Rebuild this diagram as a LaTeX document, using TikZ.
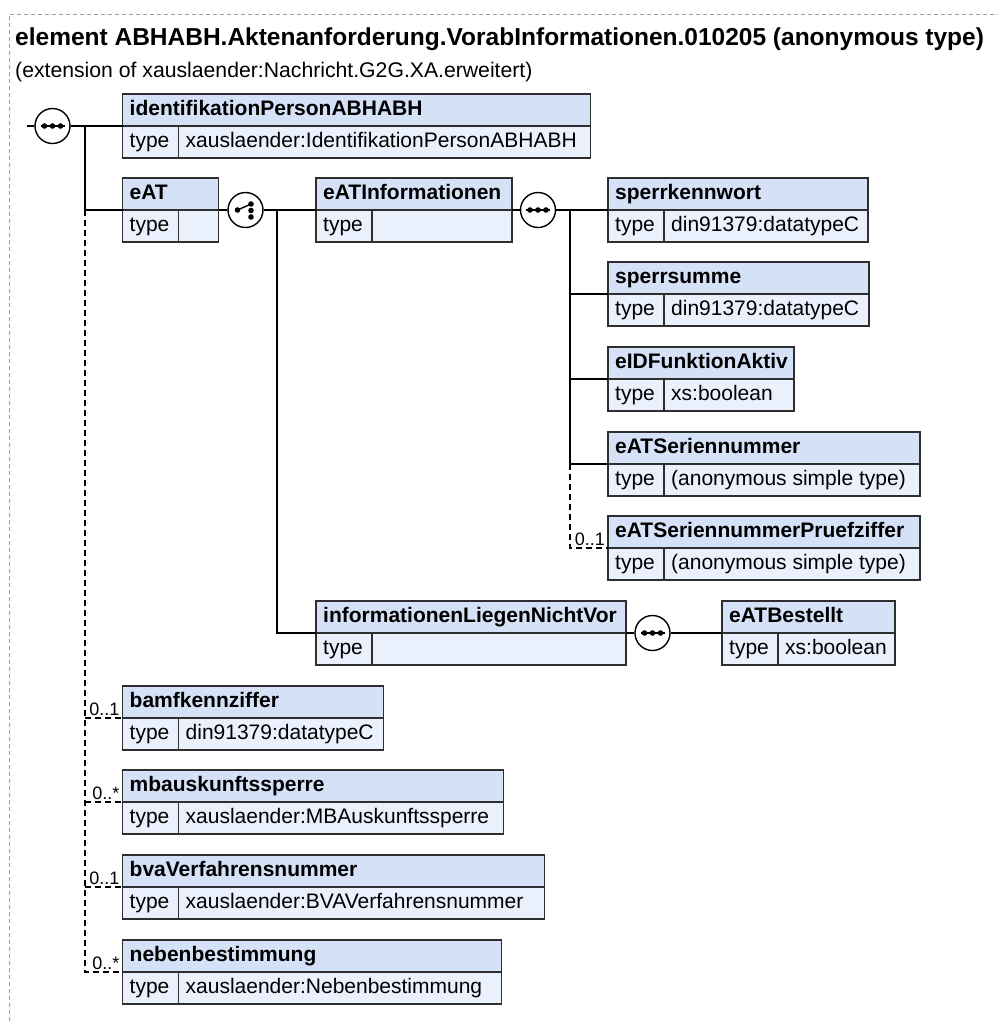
\documentclass[tikz,border=0pt]{standalone}
\usepackage{fontspec}
\setmainfont{Liberation Sans}
\definecolor{hdrfill}{HTML}{D5E1F6}
\definecolor{typfill}{HTML}{EAF1FC}
\definecolor{boxc}{HTML}{2E2E2E}
\definecolor{framec}{HTML}{A0A0A0}
\newcommand\elemBox[6]{%
  \node[hdr, minimum width=#4, anchor=south west] (#1) at (#2,#3) {};
  \node[typ, minimum width=#4, anchor=north west] (#1t) at (#2,#3) {};
  \draw[boxline] (#2+56,#3) -- (#2+56,#3+32);
  \node[htext] (#1n) at (#2+7,#3-11) {#5};
  \node[ttext] (#1k) at (#2+7,#3+21.5) {type};
  \node[ttext] (#1v) at (#2+63,#3+21.5) {#6};
}
\newcommand\seqSym[3]{%
  \node[comp] (#1) at (#2,#3) {};
  \draw[line width=1.4pt] (#2-12,#3) -- (#2+12,#3);
  \fill (#2-8,#3) circle[radius=2.8pt] (#2,#3) circle[radius=2.8pt] (#2+8,#3) circle[radius=2.8pt];
}
\newcommand\choiceSym[3]{%
  \node[comp] (#1) at (#2,#3) {};
  \draw[line width=1.4pt] (#2-8,#3) -- (#2+5.5,#3-6);
  \fill (#2-8,#3) circle[radius=2.8pt] (#2+5.5,#3-6) circle[radius=2.8pt]
        (#2+5.5,#3+0.5) circle[radius=2.8pt] (#2+5.5,#3+7) circle[radius=2.8pt];
}
\begin{document}
\begin{tikzpicture}[x=1pt,y=-1pt,
  hdr/.style={rectangle, draw=boxc, fill=hdrfill, line width=1.3pt, minimum height=32pt, inner sep=0pt, outer sep=0pt},
  typ/.style={rectangle, draw=boxc, fill=typfill, line width=1.3pt, minimum height=32pt, inner sep=0pt, outer sep=0pt},
  boxline/.style={draw=boxc, line width=1.3pt},
  htext/.style={font=\fontsize{21}{24}\selectfont\bfseries, inner sep=0pt, anchor=base west},
  ttext/.style={font=\fontsize{21}{24}\selectfont, inner sep=0pt, anchor=base west},
  card/.style={font=\fontsize{18}{20}\selectfont, inner sep=0pt, anchor=base east},
  comp/.style={circle, draw, fill=white, line width=1.4pt, minimum size=35pt, inner sep=0pt},
  conn/.style={line width=1.3pt},
  opt/.style={line width=1.3pt, dash pattern=on 6pt off 4pt},
  frame/.style={draw=framec, line width=1pt, dash pattern=on 4pt off 3pt},
]
\useasboundingbox (0,0) rectangle (998,1021);
\draw[frame] (9,1021) -- (9,14) -- (998,14);
\node[font=\fontsize{24.5}{28}\selectfont\bfseries, anchor=base west, inner sep=0pt] (title) at (15,45) {element ABHABH.Aktenanforderung.VorabInformationen.010205 (anonymous type)};
\node[font=\fontsize{21.2}{24}\selectfont, anchor=base west, inner sep=0pt] (sub) at (15,77) {(extension of xauslaender:Nachricht.G2G.XA.erweitert)};

% boxes
\elemBox{ident}{122.5}{126}{468}{identifikationPersonABHABH}{xauslaender:IdentifikationPersonABHABH}
\elemBox{eat}{122.5}{210}{96}{eAT}{}
\elemBox{eatinfo}{316}{210}{196}{eATInformationen}{}
\elemBox{sperrk}{608}{210}{260}{sperrkennwort}{din91379:datatypeC}
\elemBox{sperrs}{608}{294}{261}{sperrsumme}{din91379:datatypeC}
\elemBox{eid}{608}{379}{186}{eIDFunktionAktiv}{xs:boolean}
\elemBox{ser}{608}{464}{312}{eATSeriennummer}{(anonymous simple type)}
\elemBox{serp}{608}{548}{312}{eATSeriennummerPruefziffer}{(anonymous simple type)}
\elemBox{inlnv}{316}{633}{310}{informationenLiegenNichtVor}{}
\elemBox{best}{722}{633}{173}{eATBestellt}{xs:boolean}
\elemBox{bamf}{122.5}{718}{261}{bamfkennziffer}{din91379:datatypeC}
\elemBox{mba}{122.5}{802}{381}{mbauskunftssperre}{xauslaender:MBAuskunftssperre}
\elemBox{bva}{122.5}{887}{422}{bvaVerfahrensnummer}{xauslaender:BVAVerfahrensnummer}
\elemBox{neb}{122.5}{972}{379}{nebenbestimmung}{xauslaender:Nebenbestimmung}

% compositors
\seqSym{s1}{52.5}{126}
\choiceSym{c1}{245.5}{210}
\seqSym{s2}{538}{210}
\seqSym{s3}{652.5}{633}

% connectors
\coordinate (in) at (27,126);
\coordinate (j1) at (85,126);
\coordinate (j2) at (277,210);
\coordinate (j3) at (570,210);
\draw[conn] (in) -- (s1.west);
\draw[conn] (s1.east) -- (j1) -- (ident.south west);
\draw[conn] (j1) -- (j1 |- eat.south west) -- (eat.south west);
\draw[opt] (j1 |- eat.south west) -- (j1 |- neb.south west) -- (neb.south west);
\draw[opt] (j1 |- bamf.south west) -- (bamf.south west);
\draw[opt] (j1 |- mba.south west) -- (mba.south west);
\draw[opt] (j1 |- bva.south west) -- (bva.south west);

\draw[conn] (eat.south east) -- (c1.west);
\draw[conn] (c1.east) -- (j2) -- (eatinfo.south west);
\draw[conn] (j2) -- (j2 |- inlnv.south west) -- (inlnv.south west);

\draw[conn] (eatinfo.south east) -- (s2.west);
\draw[conn] (s2.east) -- (j3) -- (sperrk.south west);
\draw[conn] (j3) -- (j3 |- ser.south west) -- (ser.south west);
\draw[conn] (j3 |- sperrs.south west) -- (sperrs.south west);
\draw[conn] (j3 |- eid.south west) -- (eid.south west);
\draw[opt] (j3 |- ser.south west) -- (j3 |- serp.south west) -- (serp.south west);

\draw[conn] (inlnv.south east) -- (s3.west);
\draw[conn] (s3.east) -- (best.south west);

% cardinalities
\node[card] (cserp) at (605,545) {0..1};
\node[card] (cbamf) at (119.5,715) {0..1};
\node[card] (cmba) at (119.5,799) {0..*};
\node[card] (cbva) at (119.5,884) {0..1};
\node[card] (cneb) at (119.5,969) {0..*};
\end{tikzpicture}
\end{document}
